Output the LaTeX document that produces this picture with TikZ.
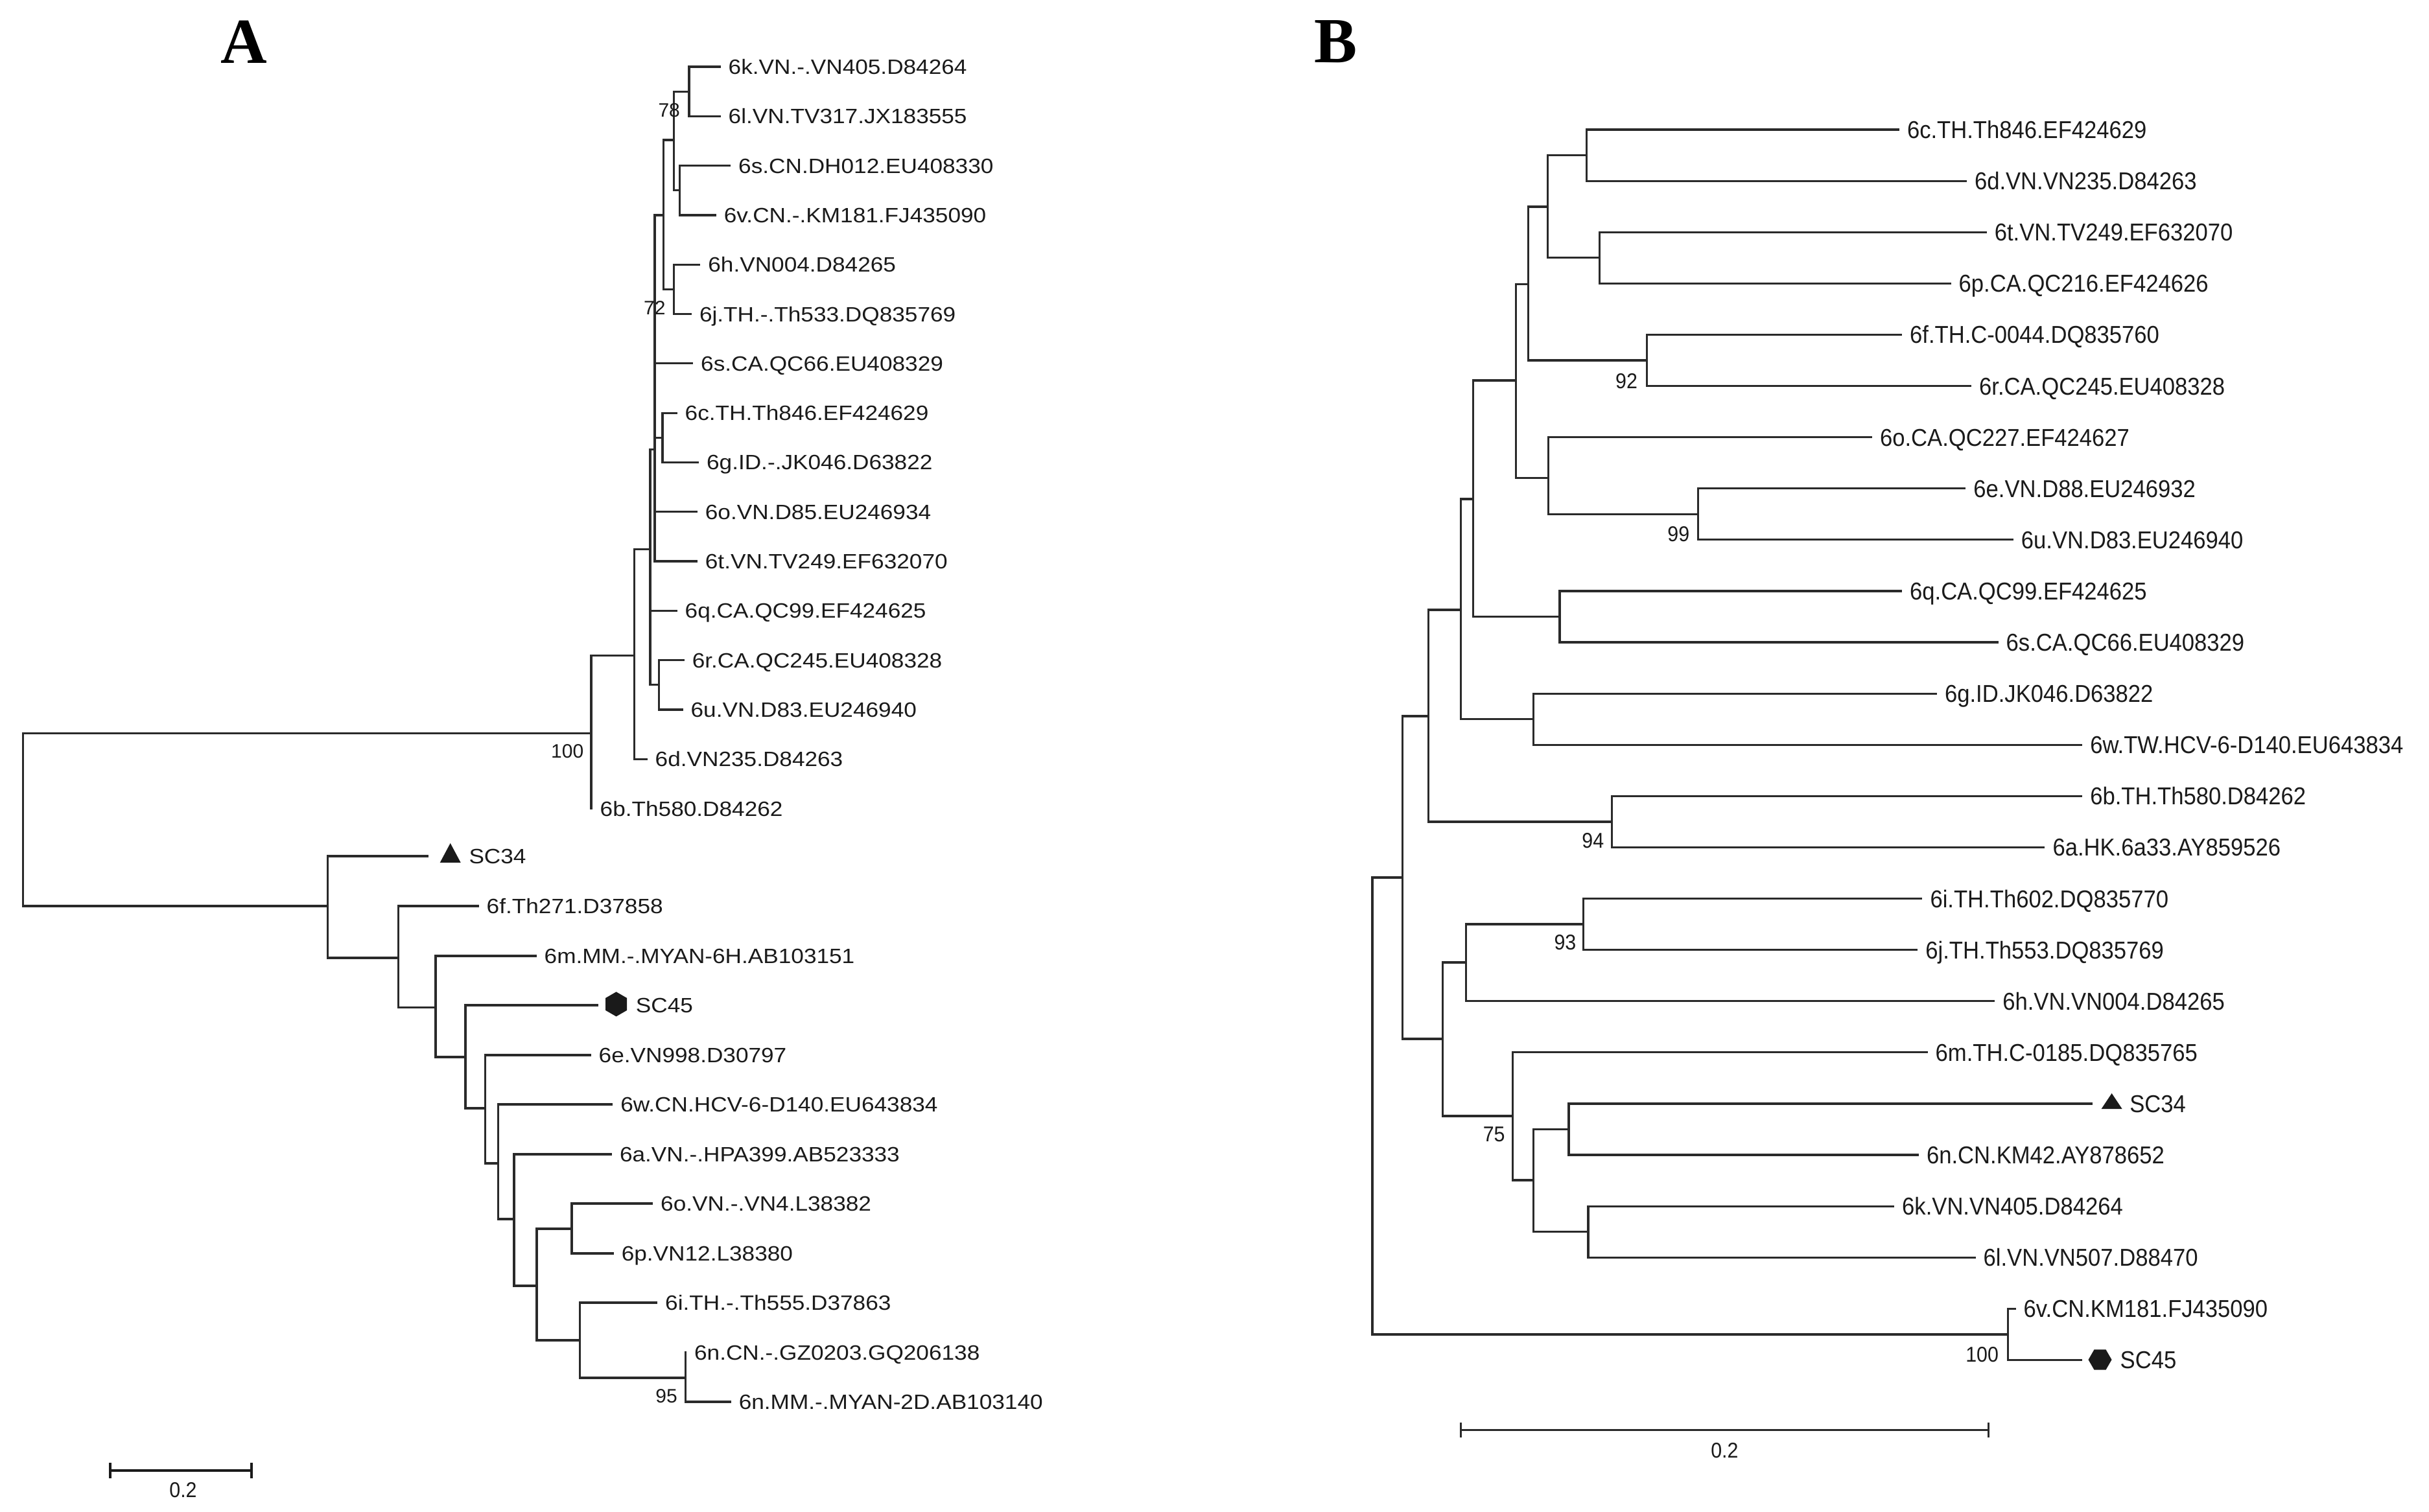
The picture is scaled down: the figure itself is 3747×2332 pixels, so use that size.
\documentclass[tikz,border=0pt]{standalone}
\usepackage{fontspec}
\usepackage{graphicx}
\setmainfont{Liberation Sans}
\newfontfamily\ttlserif{Liberation Serif}
\usetikzlibrary{calc,shapes.geometric}
\definecolor{ln}{HTML}{2A2A2A}
\definecolor{tx}{HTML}{1A1A1A}
\newcommand\fA{\fontsize{9.1pt}{9.1pt}\selectfont}
\newcommand\fB{\fontsize{10.7pt}{10.7pt}\selectfont}
\newcommand\fAn{\fontsize{8.54pt}{8.54pt}\selectfont}
\newcommand\fBn{\fontsize{9.39pt}{9.39pt}\selectfont}
\newcommand\LA[1]{\scalebox{1.1}[1]{#1}}
\newcommand\LB[1]{\scalebox{0.92}[1]{#1}}
\newcommand\leafA[4]{\coordinate (#1) at (#2,#3); \node[labA] (#1-t) at ($(#1)+(13,11.5)$) {\LA{#4}};}
\newcommand\leafB[4]{\coordinate (#1) at (#2,#3); \node[labB] (#1-t) at ($(#1)+(13,13.5)$) {\LB{#4}};}
\newcommand\kids[2]{\foreach \cc in {#2}{\draw[br] (#1) |- (\cc);}}
\begin{document}
\begin{tikzpicture}[x=0.01cm,y=-0.01cm,
 br/.style={draw=ln,line width=0.032cm,line cap=rect},
 sbar/.style={draw=tx,line width=0.04cm},
 labA/.style={anchor=base west,inner sep=0,font=\fA,text=tx},
 labB/.style={anchor=base west,inner sep=0,font=\fB,text=tx},
 bsA/.style={anchor=east,inner sep=0,font=\fAn,text=tx},
 bsB/.style={anchor=east,inner sep=0,font=\fBn,text=tx},
 scl/.style={anchor=center,inner sep=0,font=\fBn,text=tx},
 hexA/.style={regular polygon,regular polygon sides=6,minimum size=0.38cm,inner sep=0,fill=tx,draw=none,shape border rotate=90},
 hexB/.style={regular polygon,regular polygon sides=6,minimum size=0.36cm,inner sep=0,fill=tx,draw=none},
 panel/.style={font=\ttlserif\bfseries\fontsize{28.2pt}{28.2pt}\selectfont,anchor=base,inner sep=0,text=black}]

\useasboundingbox[fill=white] (0,0) rectangle (3747,2332);

% ---------- panel letters
\node[panel] (pA) at (376.5,97.3) {A};
\node[panel] (pB) at (2061,96.5) {B};

% =============== TREE A ===============
\leafA{a-k}{1110}{103}{6k.VN.-.VN405.D84264}
\leafA{a-l}{1110}{179.3}{6l.VN.TV317.JX183555}
\leafA{a-scn}{1125.5}{255.6}{6s.CN.DH012.EU408330}
\leafA{a-v}{1103.2}{331.9}{6v.CN.-.KM181.FJ435090}
\leafA{a-h}{1078.7}{408.2}{6h.VN004.D84265}
\leafA{a-j}{1065.3}{484.5}{6j.TH.-.Th533.DQ835769}
\leafA{a-sca}{1067.5}{560.8}{6s.CA.QC66.EU408329}
\leafA{a-c}{1043}{637.1}{6c.TH.Th846.EF424629}
\leafA{a-g}{1076.4}{713.4}{6g.ID.-.JK046.D63822}
\leafA{a-o}{1074.2}{789.7}{6o.VN.D85.EU246934}
\leafA{a-t}{1074.2}{866}{6t.VN.TV249.EF632070}
\leafA{a-q}{1043}{942.3}{6q.CA.QC99.EF424625}
\leafA{a-r}{1054.1}{1018.6}{6r.CA.QC245.EU408328}
\leafA{a-u}{1051.9}{1094.9}{6u.VN.D83.EU246940}
\leafA{a-d}{997}{1171.2}{6d.VN235.D84263}
\leafA{a-b}{912}{1247.5}{6b.Th580.D84262}

\coordinate (a-root) at (35.6,1265);
\coordinate (a-G) at (912,1131.5);
\coordinate (a-F) at (978.2,1011.4);
\coordinate (a-E) at (1003,847.3);
\coordinate (a-ru) at (1016.2,1056.8);
\coordinate (a-D) at (1010,693.7);
\coordinate (a-X2) at (1023.75,331.9);
\coordinate (a-X1) at (1039.8,216);
\coordinate (a-kl) at (1063,141.2);
\coordinate (a-sv) at (1048.75,293.8);
\coordinate (a-hj) at (1039.8,446.4);
\coordinate (a-cg) at (1022,675.3);

\coordinate (a-H) at (505.1,1398);
\coordinate (a-I) at (614.2,1478);
\coordinate (a-J) at (672,1554.5);
\coordinate (a-K) at (718,1631);
\coordinate (a-L) at (748.7,1710);
\coordinate (a-M) at (768.4,1795);
\coordinate (a-N) at (792.9,1881);
\coordinate (a-O) at (828,1984);
\coordinate (a-op) at (882,1896);
\coordinate (a-P) at (894.6,2068);
\coordinate (a-Q) at (1057.4,2126);

\coordinate (a-sc34) at (659,1321);
\leafA{a-f}{737}{1398}{6f.Th271.D37858}
\leafA{a-m}{826}{1475}{6m.MM.-.MYAN-6H.AB103151}
\coordinate (a-sc45) at (921.3,1551);
\leafA{a-e}{910}{1628}{6e.VN998.D30797}
\leafA{a-w}{943.7}{1704}{6w.CN.HCV-6-D140.EU643834}
\leafA{a-a}{942.3}{1781}{6a.VN.-.HPA399.AB523333}
\leafA{a-o4}{1005.5}{1857}{6o.VN.-.VN4.L38382}
\leafA{a-p}{945.1}{1934}{6p.VN12.L38380}
\leafA{a-i}{1012.5}{2010}{6i.TH.-.Th555.D37863}
\leafA{a-ncn}{1057.4}{2087}{6n.CN.-.GZ0203.GQ206138}
\leafA{a-nmm}{1126.1}{2163}{6n.MM.-.MYAN-2D.AB103140}

\kids{a-root}{a-G,a-H}
\kids{a-G}{a-F,a-b}
\kids{a-F}{a-E,a-d}
\kids{a-E}{a-D,a-q,a-ru}
\kids{a-ru}{a-r,a-u}
\kids{a-D}{a-X2,a-sca,a-cg,a-o,a-t}
\kids{a-X2}{a-X1,a-hj}
\kids{a-X1}{a-kl,a-sv}
\kids{a-kl}{a-k,a-l}
\kids{a-sv}{a-scn,a-v}
\kids{a-hj}{a-h,a-j}
\kids{a-cg}{a-c,a-g}
\kids{a-H}{a-sc34,a-I}
\kids{a-I}{a-f,a-J}
\kids{a-J}{a-m,a-K}
\kids{a-K}{a-sc45,a-L}
\kids{a-L}{a-e,a-M}
\kids{a-M}{a-w,a-N}
\kids{a-N}{a-a,a-O}
\kids{a-O}{a-op,a-P}
\kids{a-op}{a-o4,a-p}
\kids{a-P}{a-i,a-Q}
\kids{a-Q}{a-ncn,a-nmm}

% markers A
\coordinate (a-tri) at (694.7,1316);
\fill[tx] ($(a-tri)+(-16,15)$) -- ($(a-tri)+(16,15)$) -- ($(a-tri)+(0,-15)$) -- cycle;
\node[labA] (a-sc34-t) at (722.8,1332.5) {\LA{SC34}};
\node[hexA] (a-hex) at (950.6,1549.4) {};
\node[labA] (a-sc45-t) at (980.2,1562.5) {\LA{SC45}};

% bootstrap A
\node[bsA] (a-bs78) at (1049.6,169.8) {78};
\node[bsA] (a-bs72) at (1027.3,475.2) {72};
\node[bsA] (a-bs100) at (901,1159) {100};
\node[bsA] (a-bs95) at (1045.5,2154.5) {95};

% scale bar A
\coordinate (a-s1) at (170,2269);
\coordinate (a-s2) at (388,2269);
\draw[sbar] (a-s1) -- (a-s2);
\draw[sbar] (a-s1) ++(0,-12) -- ++(0,24);
\draw[sbar] (a-s2) ++(0,-12) -- ++(0,24);
\node[scl] (a-s-t) at (282.5,2299) {\LB{0.2}};

% =============== TREE B ===============
\leafB{b-c}{2928.3}{200}{6c.TH.Th846.EF424629}
\leafB{b-d}{3032.3}{279.1}{6d.VN.VN235.D84263}
\leafB{b-t}{3063.1}{358.2}{6t.VN.TV249.EF632070}
\leafB{b-p}{3008}{437.3}{6p.CA.QC216.EF424626}
\leafB{b-f}{2932.4}{516.4}{6f.TH.C-0044.DQ835760}
\leafB{b-r}{3039.4}{595.5}{6r.CA.QC245.EU408328}
\leafB{b-o}{2886.4}{674.6}{6o.CA.QC227.EF424627}
\leafB{b-e}{3030.7}{753.7}{6e.VN.D88.EU246932}
\leafB{b-u}{3104.2}{832.8}{6u.VN.D83.EU246940}
\leafB{b-q}{2932.4}{911.9}{6q.CA.QC99.EF424625}
\leafB{b-s}{3081}{991}{6s.CA.QC66.EU408329}
\leafB{b-g}{2986.4}{1070.1}{6g.ID.JK046.D63822}
\leafB{b-w}{3210.6}{1149.2}{6w.TW.HCV-6-D140.EU643834}
\leafB{b-b}{3210.6}{1228.3}{6b.TH.Th580.D84262}
\leafB{b-a}{3152.8}{1307.4}{6a.HK.6a33.AY859526}
\leafB{b-i}{2963.8}{1386.5}{6i.TH.Th602.DQ835770}
\leafB{b-j}{2956.7}{1465.6}{6j.TH.Th553.DQ835769}
\leafB{b-h}{3075.6}{1544.7}{6h.VN.VN004.D84265}
\leafB{b-m}{2972}{1623.8}{6m.TH.C-0185.DQ835765}
\coordinate (b-sc34) at (3226.8,1702.9);
\leafB{b-n}{2958.3}{1782}{6n.CN.KM42.AY878652}
\leafB{b-k}{2920.5}{1861.1}{6k.VN.VN405.D84264}
\leafB{b-l}{3045.9}{1940.2}{6l.VN.VN507.D88470}
\leafB{b-v}{3108}{2019.3}{6v.CN.KM181.FJ435090}
\coordinate (b-sc45) at (3210.6,2098.4);

\coordinate (b-root) at (2117,1708);
\coordinate (b-vs) at (3097.2,2059);
\coordinate (b-8) at (2163.2,1354);
\coordinate (b-7) at (2203.4,1105);
\coordinate (b-ba) at (2486.4,1267.9);
\coordinate (b-6) at (2253.3,941);
\coordinate (b-gw) at (2365.8,1109.6);
\coordinate (b-5) at (2272.3,770);
\coordinate (b-qs) at (2406,951.5);
\coordinate (b-4) at (2338.3,587);
\coordinate (b-3) at (2388.2,737.5);
\coordinate (b-eu) at (2619.5,793.3);
\coordinate (b-2) at (2357.2,438.5);
\coordinate (b-fr) at (2540.3,556);
\coordinate (b-1) at (2387.1,319);
\coordinate (b-cd) at (2447.3,239.5);
\coordinate (b-tp) at (2467.4,397.7);
\coordinate (b-10) at (2225.4,1603);
\coordinate (b-11) at (2261.8,1485);
\coordinate (b-ij) at (2442.2,1426);
\coordinate (b-12) at (2333.8,1722);
\coordinate (b-13) at (2365.7,1821);
\coordinate (b-sn) at (2419.9,1742.4);
\coordinate (b-kl) at (2449.9,1900.6);

\kids{b-root}{b-8,b-vs}
\kids{b-vs}{b-v,b-sc45}
\kids{b-8}{b-7,b-10}
\kids{b-7}{b-6,b-ba}
\kids{b-ba}{b-b,b-a}
\kids{b-6}{b-5,b-gw}
\kids{b-gw}{b-g,b-w}
\kids{b-5}{b-4,b-qs}
\kids{b-qs}{b-q,b-s}
\kids{b-4}{b-2,b-3}
\kids{b-3}{b-o,b-eu}
\kids{b-eu}{b-e,b-u}
\kids{b-2}{b-1,b-fr}
\kids{b-fr}{b-f,b-r}
\kids{b-1}{b-cd,b-tp}
\kids{b-cd}{b-c,b-d}
\kids{b-tp}{b-t,b-p}
\kids{b-10}{b-11,b-12}
\kids{b-11}{b-ij,b-h}
\kids{b-ij}{b-i,b-j}
\kids{b-12}{b-m,b-13}
\kids{b-13}{b-sn,b-kl}
\kids{b-sn}{b-sc34,b-n}
\kids{b-kl}{b-k,b-l}

% markers B
\coordinate (b-tri) at (3257.6,1699);
\fill[tx] ($(b-tri)+(-16,12)$) -- ($(b-tri)+(16,12)$) -- ($(b-tri)+(0,-12)$) -- cycle;
\node[labB] (b-sc34-t) at (3284.6,1716.4) {\LB{SC34}};
\node[hexB] (b-hex) at (3239.5,2098) {};
\node[labB] (b-sc45-t) at (3270,2111.9) {\LB{SC45}};

% bootstrap B
\node[bsB] (b-bs92) at (2526.6,587.9) {\LB{92}};
\node[bsB] (b-bs99) at (2606.9,823.8) {\LB{99}};
\node[bsB] (b-bs94) at (2474.9,1297) {\LB{94}};
\node[bsB] (b-bs93) at (2432,1454.5) {\LB{93}};
\node[bsB] (b-bs75) at (2322.3,1750.1) {\LB{75}};
\node[bsB] (b-bs100) at (3083.7,2090) {\LB{100}};

% scale bar B
\coordinate (b-s1) at (2253.5,2206.5);
\coordinate (b-s2) at (3067.2,2206.5);
\draw[br] (b-s1) -- (b-s2);
\draw[br] (b-s1) ++(0,-10) -- ++(0,20);
\draw[br] (b-s2) ++(0,-10) -- ++(0,20);
\node[scl] (b-s-t) at (2660.4,2238) {\LB{0.2}};
\end{tikzpicture}
\end{document}
